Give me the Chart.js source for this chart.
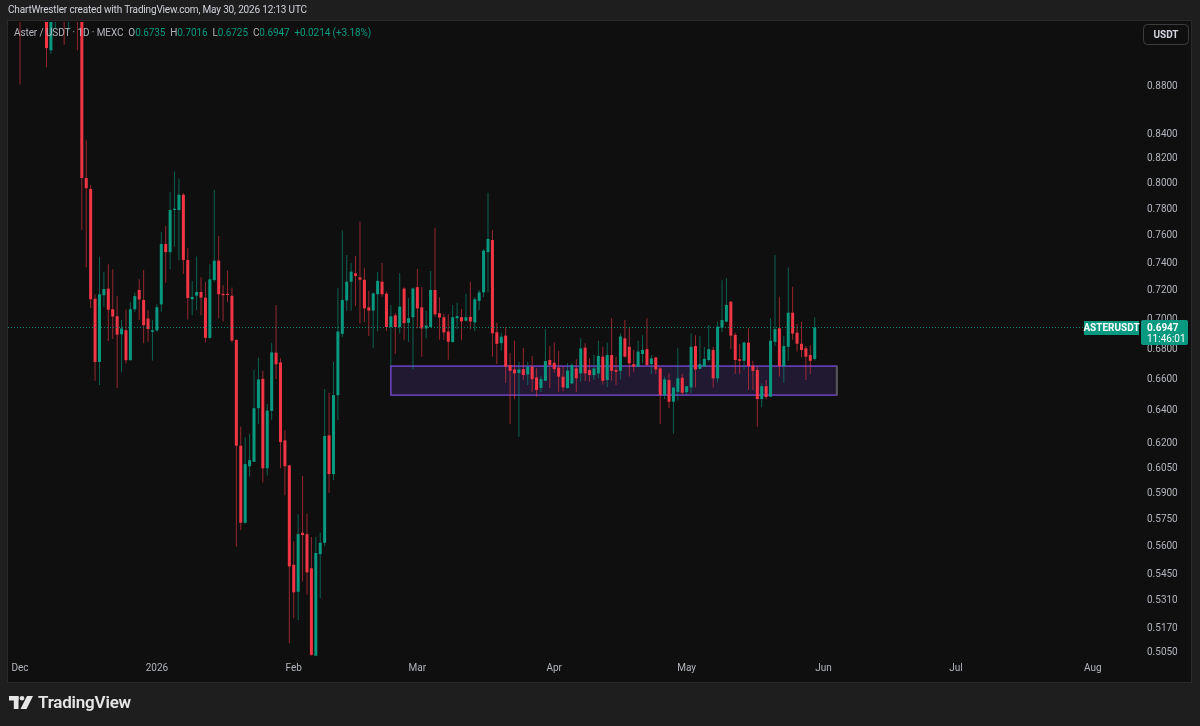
<!DOCTYPE html>
<html>
<head>
<meta charset="utf-8">
<title>Aster / USDT 1D</title>
<script src="https://cdn.jsdelivr.net/npm/chart.js@4.4.0/dist/chart.umd.min.js"></script>
<style>
  html, body { margin: 0; padding: 0; background: #1e1e1e; }
  #wrap { position: relative; width: 1200px; height: 726px; overflow: hidden; font-family: Roboto, "Noto Sans", sans-serif; }
  #chart { position: absolute; left: 0; top: 0; }
  #title { position: absolute; left: 8px; top: 4px; font-size: 10px; color: #d1d4dc; white-space: pre; letter-spacing: -0.17px; }
  #legend { position: absolute; left: 14px; top: 27px; font-size: 10px; color: #b2b5be; white-space: pre; letter-spacing: -0.1px; }
  #legend .v { color: #089981; }
  #legend .g { margin-left: 5px; }
  #footer { position: absolute; left: 9px; top: 692px; height: 20px; display: flex; align-items: center; }
  #footer span { font-size: 17px; font-weight: 600; color: #e6e6e6; margin-left: 5px; letter-spacing: -0.2px; }
</style>
</head>
<body>
<div id="wrap">
  <canvas id="chart" width="1200" height="726"></canvas>
  <div id="title">ChartWrestler created with TradingView.com, May 30, 2026 12:13 UTC</div>
  <div id="legend">Aster / USDT · 1D · MEXC<span class="g">O</span><span class="v">0.6735</span><span class="g">H</span><span class="v">0.7016</span><span class="g">L</span><span class="v">0.6725</span><span class="g">C</span><span class="v">0.6947</span><span class="v g">+0.0214 (+3.18%)</span></div>
  <div id="footer">
    <svg width="24" height="13" viewBox="0 0 24 13">
      <rect x="0" y="0" width="9.5" height="4.5" fill="#e6e6e6"/>
      <rect x="4.8" y="0" width="4.7" height="13" fill="#e6e6e6"/>
      <circle cx="13" cy="2.3" r="2.3" fill="#e6e6e6"/>
      <polygon points="18,0 24,0 17.5,13 11.5,13" fill="#e6e6e6"/>
    </svg>
    <span>TradingView</span>
  </div>
</div>
<script>
// daily candles, first one is 2025-12-01
const firstDay = '2025-12-01';

const opens = [
  0.985, 0.955, 1.005, 0.99, 0.975, 0.985, 0.965, 0.912, 0.955, 0.97,
  0.96, 0.94, 0.965, 0.958, 0.95, 0.8045, 0.7959, 0.7145, 0.6715, 0.7170,
  0.7217, 0.7072, 0.7024, 0.6900, 0.6928, 0.6727, 0.7072, 0.7207, 0.7137, 0.7008,
  0.6917, 0.6927, 0.7106, 0.7540, 0.7480, 0.7796, 0.7796, 0.7914, 0.7423, 0.7142,
  0.7167, 0.7193, 0.7153, 0.6876, 0.7278, 0.7418, 0.7180, 0.7180, 0.7166, 0.6862,
  0.6185, 0.5734, 0.6061, 0.6088, 0.6417, 0.6605, 0.6049, 0.6400, 0.6777, 0.6712,
  0.6217, 0.6066, 0.5502, 0.5358, 0.5678, 0.5670, 0.5483, 0.5032, 0.5560, 0.5622,
  0.6248, 0.6015, 0.6500, 0.6903, 0.7133, 0.7266, 0.7326, 0.7297, 0.7280, 0.7085,
  0.7063, 0.7177, 0.7266, 0.7181, 0.6950, 0.7030, 0.6950, 0.7217, 0.6978, 0.7017,
  0.7227, 0.7085, 0.6940, 0.6950, 0.7207, 0.7044, 0.7017, 0.6919, 0.6848, 0.7010,
  0.7017, 0.6993, 0.7019, 0.6981, 0.7130, 0.7190, 0.7480, 0.7570, 0.6914, 0.6840,
  0.6891, 0.6695, 0.6666, 0.6642, 0.6668, 0.6633, 0.6684, 0.6614, 0.6546, 0.6592,
  0.6728, 0.6710, 0.6678, 0.6619, 0.6545, 0.6575, 0.6673, 0.6640, 0.6810, 0.6662,
  0.6629, 0.6640, 0.6750, 0.6597, 0.6761, 0.6662, 0.6657, 0.6873, 0.6816, 0.6701,
  0.6684, 0.6768, 0.6800, 0.6701, 0.6745, 0.6673, 0.6499, 0.6597, 0.6458, 0.6521,
  0.6612, 0.6519, 0.6549, 0.6821, 0.6670, 0.6684, 0.6728, 0.6795, 0.6608, 0.6945,
  0.6986, 0.7125, 0.6896, 0.6733, 0.6723, 0.6844, 0.6690, 0.6662, 0.6475, 0.6557,
  0.6490, 0.6849, 0.6941, 0.6688, 0.6816, 0.7048, 0.6911, 0.6836, 0.6806, 0.6761,
  0.6735
];
const highs = [
  1.01, 1.02, 1.04, 1.01, 0.995, 1.0, 0.98, 0.97, 0.985, 0.99,
  0.975, 0.98, 0.985, 0.97, 0.96, 0.835, 0.7990, 0.7175, 0.7447, 0.7338,
  0.7392, 0.7355, 0.7165, 0.6998, 0.7070, 0.7120, 0.7190, 0.7283, 0.7350, 0.7067,
  0.6998, 0.7107, 0.7632, 0.7677, 0.7938, 0.8096, 0.8042, 0.7927, 0.7509, 0.7271,
  0.7448, 0.7298, 0.7263, 0.7392, 0.7951, 0.7600, 0.7240, 0.7345, 0.7225, 0.6866,
  0.6302, 0.6236, 0.6256, 0.6662, 0.6743, 0.6657, 0.6444, 0.6841, 0.7102, 0.6739,
  0.6279, 0.6070, 0.5631, 0.5782, 0.6004, 0.5787, 0.5655, 0.5655, 0.5678, 0.6539,
  0.6515, 0.6717, 0.7219, 0.7640, 0.7460, 0.7400, 0.7452, 0.7707, 0.7366, 0.7202,
  0.7190, 0.7335, 0.7400, 0.7194, 0.7102, 0.7046, 0.7326, 0.7227, 0.7149, 0.7225,
  0.7357, 0.7227, 0.7062, 0.7342, 0.7662, 0.7156, 0.7040, 0.7038, 0.7102, 0.7118,
  0.7073, 0.7180, 0.7266, 0.7156, 0.7207, 0.7504, 0.7930, 0.7645, 0.6979, 0.6911,
  0.6952, 0.6777, 0.6857, 0.6716, 0.6808, 0.6716, 0.6755, 0.6673, 0.6623, 0.6934,
  0.6822, 0.6844, 0.6790, 0.6684, 0.6706, 0.6706, 0.6733, 0.6873, 0.6839, 0.6740,
  0.6761, 0.6857, 0.6817, 0.6844, 0.7009, 0.6750, 0.6907, 0.6998, 0.6952, 0.6795,
  0.6857, 0.6894, 0.7009, 0.6761, 0.6750, 0.6684, 0.6620, 0.6640, 0.6549, 0.6806,
  0.6636, 0.6557, 0.6905, 0.6894, 0.6889, 0.6816, 0.6964, 0.6816, 0.6986, 0.7276,
  0.7290, 0.7130, 0.6911, 0.6835, 0.6851, 0.6941, 0.6723, 0.6688, 0.6575, 0.6597,
  0.7009, 0.7460, 0.7160, 0.6889, 0.7368, 0.7230, 0.6971, 0.6986, 0.6821, 0.6827,
  0.7016
];
const lows = [
  0.882, 0.945, 0.985, 0.96, 0.95, 0.955, 0.897, 0.909, 0.932, 0.945,
  0.917, 0.930, 0.945, 0.912, 0.7645, 0.737, 0.7081, 0.6590, 0.6565, 0.7090,
  0.6855, 0.6868, 0.6546, 0.6647, 0.6705, 0.6725, 0.7055, 0.6997, 0.6839, 0.6850,
  0.6725, 0.6915, 0.7055, 0.7259, 0.7355, 0.7520, 0.7418, 0.7322, 0.7001, 0.7031,
  0.7067, 0.7031, 0.6845, 0.6870, 0.7266, 0.7010, 0.6988, 0.7123, 0.6845, 0.5600,
  0.5693, 0.5728, 0.6000, 0.6087, 0.6318, 0.5965, 0.6007, 0.6343, 0.6604, 0.6049,
  0.5891, 0.5094, 0.5221, 0.5212, 0.5412, 0.5342, 0.5032, 0.5030, 0.5324, 0.5603,
  0.5906, 0.5980, 0.6343, 0.6880, 0.7062, 0.7062, 0.7095, 0.6973, 0.6986, 0.6888,
  0.6806, 0.6920, 0.7160, 0.6922, 0.6691, 0.6770, 0.6906, 0.6864, 0.6850, 0.6667,
  0.6941, 0.6750, 0.6873, 0.6945, 0.7021, 0.6864, 0.6864, 0.6730, 0.6845, 0.6935,
  0.6860, 0.6988, 0.6935, 0.6920, 0.7067, 0.7156, 0.7190, 0.6750, 0.6702, 0.6790,
  0.6580, 0.6316, 0.6473, 0.6240, 0.6597, 0.6565, 0.6520, 0.6490, 0.6520, 0.6590,
  0.6545, 0.6645, 0.6522, 0.6524, 0.6542, 0.6572, 0.6520, 0.6586, 0.6590, 0.6586,
  0.6597, 0.6608, 0.6568, 0.6550, 0.6592, 0.6565, 0.6601, 0.6745, 0.6620, 0.6651,
  0.6680, 0.6706, 0.6690, 0.6636, 0.6636, 0.6318, 0.6475, 0.6417, 0.6260, 0.6466,
  0.6502, 0.6502, 0.6513, 0.6549, 0.6668, 0.6682, 0.6717, 0.6549, 0.6580, 0.6916,
  0.6986, 0.6801, 0.6636, 0.6636, 0.6666, 0.6533, 0.6533, 0.6301, 0.6423, 0.6473,
  0.6490, 0.6821, 0.6620, 0.6580, 0.6723, 0.6864, 0.6784, 0.6746, 0.6597, 0.6636,
  0.6725
];
const closes = [
  0.955, 1.005, 0.99, 0.975, 0.985, 0.965, 0.914, 0.955, 0.97, 0.96,
  0.94, 0.965, 0.958, 0.95, 0.8045, 0.7965, 0.7142, 0.6715, 0.7177, 0.7214,
  0.7069, 0.7022, 0.6898, 0.6940, 0.6727, 0.7072, 0.7164, 0.7140, 0.6962, 0.6936,
  0.6927, 0.7086, 0.7540, 0.7480, 0.7796, 0.7806, 0.7914, 0.7423, 0.7151, 0.7158,
  0.7193, 0.7153, 0.6876, 0.7283, 0.7418, 0.7177, 0.7170, 0.7172, 0.6858, 0.6185,
  0.5734, 0.6074, 0.6098, 0.6417, 0.6601, 0.6049, 0.6402, 0.6779, 0.6700, 0.6207,
  0.6061, 0.5493, 0.5355, 0.5670, 0.5665, 0.5461, 0.5036, 0.5566, 0.5622, 0.6244,
  0.6015, 0.6500, 0.6919, 0.7137, 0.7266, 0.7338, 0.7307, 0.7280, 0.7078, 0.7063,
  0.7183, 0.7272, 0.7177, 0.6950, 0.7023, 0.6950, 0.7090, 0.6976, 0.7010, 0.7218,
  0.7078, 0.6940, 0.6960, 0.7207, 0.7037, 0.7015, 0.6913, 0.6850, 0.7017, 0.7024,
  0.6988, 0.7017, 0.6988, 0.7142, 0.7190, 0.7491, 0.7578, 0.6907, 0.6836, 0.6884,
  0.6685, 0.6657, 0.6640, 0.6666, 0.6629, 0.6684, 0.6602, 0.6533, 0.6603, 0.6721,
  0.6695, 0.6668, 0.6619, 0.6550, 0.6658, 0.6695, 0.6608, 0.6805, 0.6640, 0.6629,
  0.6673, 0.6755, 0.6592, 0.6761, 0.6657, 0.6651, 0.6885, 0.6750, 0.6706, 0.6684,
  0.6784, 0.6795, 0.6695, 0.6739, 0.6666, 0.6501, 0.6601, 0.6458, 0.6549, 0.6608,
  0.6515, 0.6557, 0.6816, 0.6666, 0.6701, 0.6736, 0.6800, 0.6608, 0.6952, 0.6998,
  0.7102, 0.6891, 0.6728, 0.6723, 0.6844, 0.6688, 0.6657, 0.6475, 0.6557, 0.6488,
  0.6857, 0.6935, 0.6688, 0.6821, 0.7048, 0.6905, 0.6836, 0.6795, 0.6750, 0.6723,
  0.6947
];

const monthStarts = ['2025-12-01', '2026-01-01', '2026-02-01', '2026-03-01', '2026-04-01',
  '2026-05-01', '2026-06-01', '2026-07-01', '2026-08-01'];
const monthLabels = ['Dec', '2026', 'Feb', 'Mar', 'Apr', 'May', 'Jun', 'Jul', 'Aug'];
const priceTicks = [0.8800, 0.8400, 0.8200, 0.8000, 0.7800, 0.7600, 0.7400, 0.7200, 0.7000,
  0.6800, 0.6600, 0.6400, 0.6200, 0.6050, 0.5900, 0.5750, 0.5600, 0.5450, 0.5310, 0.5170, 0.5050];

// drawn rectangle (zone)
const zoneFrom = '2026-02-23';
const zoneTo = '2026-06-04';
const zoneHigh = 0.6688;
const zoneLow = 0.6500;

const upColor = '#089981';
const downColor = '#f23645';
const upWick = 'rgba(8,153,129,0.6)';
const downWick = 'rgba(242,54,69,0.6)';

function dayIndex(d) {
  return (Date.parse(d) - Date.parse(firstDay)) / 86400000;
}

var wicks = [];
var bodies = [];
var bodyColors = [];
var wickColors = [];
for (var i = 0; i < opens.length; i++) {
  wicks.push({ x: i, y: [lows[i], highs[i]] });
  bodies.push({ x: i, y: [opens[i], closes[i]] });
  var up = closes[i] >= opens[i];
  bodyColors.push(up ? upColor : downColor);
  wickColors.push(up ? upWick : downWick);
}
var lastClose = closes[closes.length - 1];

const paneBg = {
  id: 'paneBg',
  beforeDraw(chart) {
    const ctx = chart.ctx;
    ctx.save();
    ctx.fillStyle = '#1e1e1e';
    ctx.fillRect(0, 0, chart.width, chart.height);
    ctx.fillStyle = '#0f0f0f';
    ctx.fillRect(8, 21, 1183, 661);
    ctx.strokeStyle = '#2a2a2a';
    ctx.lineWidth = 1;
    ctx.strokeRect(7.5, 20.5, 1184, 662);
    ctx.restore();
  }
};

const zoneBox = {
  id: 'zoneBox',
  beforeDatasetsDraw(chart) {
    const ctx = chart.ctx;
    const xs = chart.scales.x, ys = chart.scales.y;
    const l = xs.getPixelForValue(dayIndex(zoneFrom));
    const r = xs.getPixelForValue(dayIndex(zoneTo));
    const t = ys.getPixelForValue(zoneHigh);
    const b = ys.getPixelForValue(zoneLow);
    ctx.save();
    ctx.fillStyle = 'rgba(103,58,183,0.2)';
    ctx.fillRect(l, t, r - l, b - t);
    ctx.strokeStyle = '#6d44c4';
    ctx.lineWidth = 1.5;
    ctx.strokeRect(l, t, r - l, b - t);
    ctx.strokeStyle = '#555555';
    ctx.lineWidth = 2;
    ctx.beginPath();
    ctx.moveTo(r, t);
    ctx.lineTo(r, b);
    ctx.stroke();
    ctx.restore();
  }
};

const priceLine = {
  id: 'priceLine',
  afterDatasetsDraw(chart) {
    const ctx = chart.ctx;
    const a = chart.chartArea;
    const y = Math.round(chart.scales.y.getPixelForValue(lastClose)) + 0.5;
    ctx.save();
    ctx.strokeStyle = 'rgba(8,153,129,0.85)';
    ctx.lineWidth = 1;
    ctx.setLineDash([1, 2]);
    ctx.beginPath();
    ctx.moveTo(a.left, y);
    ctx.lineTo(a.right, y);
    ctx.stroke();
    ctx.restore();
  },
  afterDraw(chart) {
    const ctx = chart.ctx;
    const yc = Math.round(chart.scales.y.getPixelForValue(lastClose));
    ctx.save();
    ctx.fillStyle = upColor;
    ctx.fillRect(1084, yc - 6, 55, 14);
    ctx.beginPath();
    ctx.roundRect(1141, yc - 7, 47, 25, 2);
    ctx.fill();
    ctx.fillStyle = '#ffffff';
    ctx.textBaseline = 'middle';
    ctx.textAlign = 'center';
    ctx.font = 'bold 10px Roboto';
    ctx.fillText('ASTERUSDT', 1111.5, yc + 1);
    ctx.textAlign = 'left';
    ctx.fillText('0.6947', 1147, yc + 1);
    ctx.font = '10px Roboto';
    ctx.fillText('11:46:01', 1147, yc + 12);

    // currency button
    ctx.strokeStyle = '#3c3c3c';
    ctx.lineWidth = 1;
    ctx.beginPath();
    ctx.roundRect(1143.5, 24.5, 45, 20, 4);
    ctx.stroke();
    ctx.fillStyle = '#d1d4dc';
    ctx.textAlign = 'center';
    ctx.font = 'bold 10px Roboto';
    ctx.fillText('USDT', 1166, 35);
    ctx.restore();
  }
};

Chart.defaults.font.family = 'Roboto';
Chart.defaults.font.size = 10;
Chart.defaults.color = '#b2b5be';

var ctx = document.getElementById('chart').getContext('2d');
var grafico = new Chart(ctx, {
  type: 'bar',
  data: {
    datasets: [{
      label: 'wicks',
      data: wicks,
      backgroundColor: wickColors,
      barThickness: 1,
      grouped: false,
      clip: 0,
      inflateAmount: 0,
      borderWidth: 0
    }, {
      label: 'bodies',
      data: bodies,
      backgroundColor: bodyColors,
      barThickness: 3,
      minBarLength: 1,
      grouped: false,
      clip: 0,
      inflateAmount: 0,
      borderWidth: 0
    }]
  },
  options: {
    responsive: false,
    animation: false,
    events: [],
    layout: { padding: { left: 8, top: 22, right: 9, bottom: 44 } },
    plugins: { legend: { display: false }, tooltip: { enabled: false } },
    scales: {
      x: {
        type: 'linear',
        offset: false,
        min: -2.72,
        max: 253.45,
        grid: { display: false, drawTicks: false },
        border: { display: false },
        afterBuildTicks: function (scale) {
          scale.ticks = monthStarts.map(function (d) { return { value: dayIndex(d) }; });
        },
        afterFit: function (scale) { scale.height = 24; },
        ticks: {
          autoSkip: false,
          maxRotation: 0,
          padding: 4,
          color: '#b2b5be',
          callback: function (value, index) { return monthLabels[index]; }
        }
      },
      y: {
        type: 'logarithmic',
        position: 'right',
        min: 0.502065,
        max: 0.93775,
        grid: { display: false, drawTicks: false },
        border: { display: false },
        afterBuildTicks: function (scale) {
          scale.ticks = priceTicks.map(function (v) { return { value: v }; });
        },
        afterFit: function (scale) { scale.width = 52; },
        ticks: {
          autoSkip: false,
          padding: 8,
          color: '#b2b5be',
          callback: function (value) { return Number(value).toFixed(4); }
        }
      }
    }
  },
  plugins: [paneBg, zoneBox, priceLine]
});
</script>
</body>
</html>
